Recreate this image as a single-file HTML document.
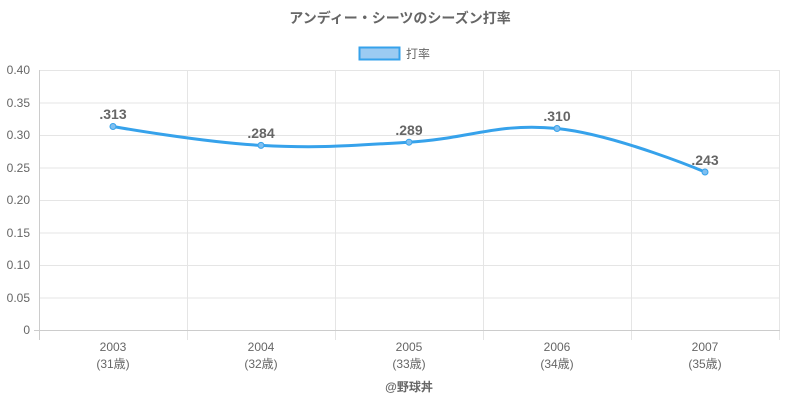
<!DOCTYPE html>
<html><head><meta charset="utf-8"><style>
html,body{margin:0;padding:0;background:#fff;}
svg{display:block;font-family:"Liberation Sans","Noto Sans CJK JP",sans-serif;}
</style></head><body>
<svg width="800" height="400" viewBox="0 0 800 400">
<text x="400" y="23" text-anchor="middle" font-size="14" font-weight="bold" fill="#666">アンディー・シーツのシーズン打率</text>
<rect x="359.5" y="47.5" width="40" height="12" fill="#9ccbf2" stroke="#36a2eb" stroke-width="2"/>
<text x="406" y="58" font-size="12" fill="#666">打率</text>
<g stroke="#e5e5e5" stroke-width="1">
<line x1="39" y1="70.5" x2="780" y2="70.5"/>
<line x1="39" y1="103" x2="780" y2="103"/>
<line x1="39" y1="135.5" x2="780" y2="135.5"/>
<line x1="39" y1="168" x2="780" y2="168"/>
<line x1="39" y1="200.5" x2="780" y2="200.5"/>
<line x1="39" y1="233" x2="780" y2="233"/>
<line x1="39" y1="265.5" x2="780" y2="265.5"/>
<line x1="39" y1="298" x2="780" y2="298"/>
<line x1="187.5" y1="70" x2="187.5" y2="340"/>
<line x1="335.5" y1="70" x2="335.5" y2="340"/>
<line x1="483.5" y1="70" x2="483.5" y2="340"/>
<line x1="631.5" y1="70" x2="631.5" y2="340"/>
<line x1="779.5" y1="70" x2="779.5" y2="340"/>
</g>
<line x1="39.5" y1="70" x2="39.5" y2="340" stroke="#ccc"/>
<line x1="34" y1="330.5" x2="780" y2="330.5" stroke="#ccc"/>
<g font-size="12" fill="#666" text-anchor="end">
<text x="30" y="74">0.40</text><text x="30" y="107">0.35</text><text x="30" y="139">0.30</text>
<text x="30" y="172">0.25</text><text x="30" y="204">0.20</text><text x="30" y="237">0.15</text>
<text x="30" y="269">0.10</text><text x="30" y="302">0.05</text><text x="30" y="334">0</text>
</g>
<g font-size="12" fill="#666" text-anchor="middle">
<text x="113" y="351">2003</text><text x="113" y="368">(31歳)</text>
<text x="261" y="351">2004</text><text x="261" y="368">(32歳)</text>
<text x="409" y="351">2005</text><text x="409" y="368">(33歳)</text>
<text x="557" y="351">2006</text><text x="557" y="368">(34歳)</text>
<text x="705" y="351">2007</text><text x="705" y="368">(35歳)</text>
</g>
<path d="M113,126.5 C113,126.5 201.8,142.3 261,145.4 C320.2,148.5 349.8,145.6 409,142.2 C468.2,138.8 497.8,122.5 557,128.5 C616.2,134.5 705,172 705,172" fill="none" stroke="#36a2eb" stroke-width="3"/>
<g fill="#7fbff0" stroke="#36a2eb" stroke-width="1">
<circle cx="113" cy="126.5" r="3"/><circle cx="261" cy="145.4" r="3"/><circle cx="409" cy="142.2" r="3"/><circle cx="557" cy="128.5" r="3"/><circle cx="705" cy="172" r="3"/>
</g>
<g font-size="14" font-weight="bold" fill="#666" text-anchor="middle">
<text x="113" y="119">.313</text><text x="261" y="138">.284</text><text x="409" y="135">.289</text><text x="557" y="121">.310</text><text x="705" y="165">.243</text>
</g>
<text x="409" y="391" text-anchor="middle" font-size="12" font-weight="bold" fill="#666">@野球丼</text>
</svg>
</body></html>
